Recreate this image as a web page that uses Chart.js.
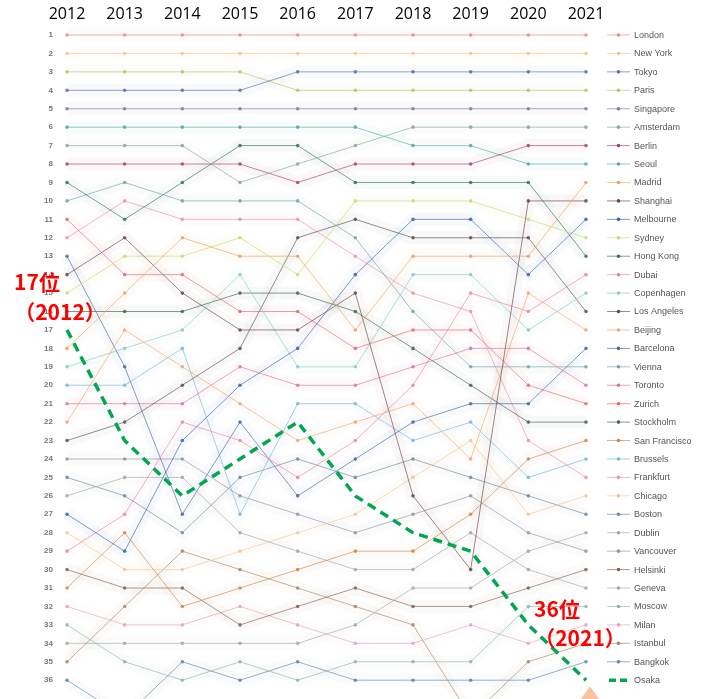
<!DOCTYPE html>
<html>
<head>
<meta charset="utf-8">
<script src="https://cdn.jsdelivr.net/npm/chart.js@4.4.1/dist/chart.umd.min.js"></script>
<style>
  body { margin: 0; background: #fff; }
  #wrap { width: 712px; height: 699px; }
</style>
</head>
<body>
<div id="wrap"><canvas id="rankChart" width="712" height="699"></canvas></div>
<script>
const years = ["2012", "2013", "2014", "2015", "2016", "2017", "2018", "2019", "2020", "2021"];

const cities = ["London", "New York", "Tokyo", "Paris", "Singapore", "Amsterdam", "Berlin", "Seoul",
    "Madrid", "Shanghai", "Melbourne", "Sydney", "Hong Kong", "Dubai", "Copenhagen", "Los Angeles",
    "Beijing", "Barcelona", "Vienna", "Toronto", "Zurich", "Stockholm", "San Francisco", "Brussels",
    "Frankfurt", "Chicago", "Boston", "Dublin", "Vancouver", "Helsinki", "Geneva", "Moscow",
    "Milan", "Istanbul", "Bangkok", "Osaka"];

// rank of each city (same order as cities) per year
const rank2012 = [1, 2, 4, 3, 5, 7, 8, 6, 18, 14, 27, 15, 9, 29, 19, 23, 22, 13, 10, 21, 11, 16, 31, 20, 12, 28, 25, 34, 24, 30, 26, 33, 32, 35, 36, 17];
const rank2013 = [1, 2, 4, 3, 5, 7, 8, 6, 15, 12, 29, 13, 11, 27, 18, 22, 17, 19, 9, 21, 14, 16, 28, 20, 10, 30, 26, 34, 24, 31, 25, 35, 33, 32, 38, 23];
const rank2014 = [1, 2, 4, 3, 5, 7, 8, 6, 12, 15, 23, 13, 9, 22, 17, 20, 19, 27, 10, 21, 14, 16, 32, 18, 11, 30, 28, 34, 24, 31, 25, 36, 33, 29, 35, 26];
const rank2015 = [1, 2, 4, 3, 5, 9, 8, 6, 13, 17, 20, 12, 7, 23, 14, 18, 21, 22, 10, 19, 16, 15, 31, 27, 11, 29, 25, 34, 26, 33, 28, 35, 32, 30, 36, 24];
const rank2016 = [1, 2, 3, 4, 5, 8, 9, 6, 13, 17, 18, 14, 7, 25, 19, 12, 23, 26, 10, 20, 16, 15, 30, 21, 11, 28, 24, 34, 27, 32, 29, 36, 33, 31, 35, 22];
const rank2017 = [1, 2, 3, 4, 5, 7, 8, 6, 17, 15, 14, 10, 9, 23, 19, 11, 22, 24, 12, 20, 18, 16, 29, 21, 13, 27, 25, 33, 28, 31, 30, 35, 34, 32, 36, 26];
const rank2018 = [1, 2, 3, 4, 5, 6, 8, 7, 13, 26, 11, 10, 9, 20, 14, 12, 21, 22, 16, 19, 17, 18, 29, 23, 15, 25, 24, 31, 27, 32, 30, 35, 34, 33, 36, 28];
const rank2019 = [1, 2, 3, 4, 5, 6, 8, 7, 13, 30, 11, 10, 9, 15, 14, 12, 24, 21, 19, 18, 17, 20, 27, 22, 16, 23, 25, 31, 26, 32, 28, 35, 33, 38, 36, 29];
const rank2020 = [1, 2, 3, 4, 5, 6, 7, 8, 13, 10, 14, 11, 9, 16, 17, 12, 15, 21, 19, 18, 20, 22, 24, 25, 23, 27, 26, 29, 28, 31, 30, 32, 34, 35, 36, 33];
const rank2021 = [1, 2, 3, 4, 5, 6, 7, 8, 9, 10, 11, 12, 13, 14, 15, 16, 17, 18, 19, 20, 21, 22, 23, 24, 25, 26, 27, 28, 29, 30, 31, 32, 33, 34, 35, 36];

const rankLabels = [1, 2, 3, 4, 5, 6, 7, 8, 9, 10, 11, 12, 13, 14, 15, 16, 17, 18,
    19, 20, 21, 22, 23, 24, 25, 26, 27, 28, 29, 30, 31, 32, 33, 34, 35, 36];

const lineColors = ["#e98a8a", "#f4c38f", "#5b6fae", "#a9c96a", "#7d7aa6", "#8aa69a", "#a4465a", "#54aaa2",
    "#ef9f62", "#6a4646", "#3563b0", "#cbd872", "#33706a", "#e289a6", "#86cbc3", "#5a5252",
    "#f0a675", "#4a66a4", "#75a3a6", "#d67896", "#e2687a", "#46644f", "#d08548", "#79b6d4",
    "#e496a6", "#f2c594", "#75879a", "#a3aba3", "#9494a6", "#86634f", "#a6a6a6", "#94b4a2",
    "#e2a6b6", "#a68865", "#6684a4", "#00a650"];

const yearRanks = [rank2012, rank2013, rank2014, rank2015, rank2016, rank2017, rank2018, rank2019, rank2020, rank2021];
const osakaIdx = cities.indexOf("Osaka");

function fade(hex, a) {
    const n = parseInt(hex.slice(1), 16);
    return `rgba(${(n >> 16) & 255},${(n >> 8) & 255},${n & 255},${a})`;
}

const datasets = cities.map((city, i) => {
    const isOsaka = i === osakaIdx;
    return {
        label: city,
        data: yearRanks.map(r => r[i]),
        borderColor: isOsaka ? lineColors[i] : fade(lineColors[i], 0.65),
        backgroundColor: isOsaka ? lineColors[i] : fade(lineColors[i], 0.85),
        borderWidth: isOsaka ? 3.5 : 1,
        borderDash: isOsaka ? [9, 6] : [],
        pointRadius: isOsaka ? 0 : 1.8,
        pointBorderWidth: 0,
        tension: 0,
        clip: false,
        order: isOsaka ? -1 : 0
    };
});

// faint wide wash under each line
const halo = {
    id: "halo",
    beforeDatasetsDraw(chart) {
        const ctx = chart.ctx;
        ctx.save();
        chart.data.datasets.forEach((ds, i) => {
            if (i === osakaIdx) return;
            const pts = chart.getDatasetMeta(i).data;
            ctx.beginPath();
            pts.forEach((p, k) => k ? ctx.lineTo(p.x, p.y) : ctx.moveTo(p.x, p.y));
            ctx.strokeStyle = fade(lineColors[i], 0.035);
            ctx.lineWidth = 13;
            ctx.lineJoin = "round";
            ctx.stroke();
        });
        ctx.restore();
    }
};

// legend rows lined up with the rank rows
const sideLegend = {
    id: "sideLegend",
    afterDraw(chart) {
        const ctx = chart.ctx;
        const y = chart.scales.y;
        ctx.save();
        cities.forEach((city, i) => {
            const py = y.getPixelForValue(i + 1);
            ctx.beginPath();
            if (i === osakaIdx) {
                ctx.setLineDash([7, 4]);
                ctx.lineWidth = 3.5;
                ctx.strokeStyle = lineColors[i];
                ctx.moveTo(609, py);
                ctx.lineTo(630, py);
                ctx.stroke();
                ctx.setLineDash([]);
            } else {
                ctx.lineWidth = 1;
                ctx.strokeStyle = fade(lineColors[i], 0.65);
                ctx.moveTo(607, py);
                ctx.lineTo(630, py);
                ctx.stroke();
                ctx.beginPath();
                ctx.fillStyle = lineColors[i];
                ctx.arc(618.5, py, 1.8, 0, Math.PI * 2);
                ctx.fill();
            }
            ctx.fillStyle = "#555";
            ctx.font = "9px 'Liberation Sans', sans-serif";
            ctx.textBaseline = "middle";
            ctx.textAlign = "left";
            ctx.fillText(city, 634, py + 0.5);
        });
        ctx.restore();
    }
};

// red callouts for Osaka
const callouts = {
    id: "callouts",
    afterDraw(chart) {
        const ctx = chart.ctx;
        const meta = chart.getDatasetMeta(osakaIdx).data;
        const last = meta[meta.length - 1];
        ctx.save();
        ctx.fillStyle = "#ff0000";
        ctx.textAlign = "center";
        ctx.textBaseline = "middle";
        ctx.font = "bold 21px 'Noto Sans CJK JP', sans-serif";
        ctx.fillText("17位", 37, 282);
        ctx.fillText("（2012）", 60, 312);
        ctx.fillText("36位", 557, 609);
        ctx.fillText("（2021）", 580, 638);
        ctx.beginPath();
        ctx.fillStyle = "#f9c3a3";
        ctx.moveTo(last.x + 4, last.y + 6);
        ctx.lineTo(last.x - 6, last.y + 20);
        ctx.lineTo(last.x + 14, last.y + 20);
        ctx.closePath();
        ctx.fill();
        ctx.restore();
    }
};

new Chart(document.getElementById("rankChart"), {
    type: "line",
    data: { labels: years, datasets: datasets },
    options: {
        responsive: false,
        animation: false,
        devicePixelRatio: 1,
        layout: { padding: { left: 0, right: 126, top: 0, bottom: 16 } },
        plugins: { legend: { display: false }, tooltip: { enabled: false } },
        scales: {
            x: {
                type: "category",
                position: "top",
                offset: false,
                grid: { display: false, drawTicks: false },
                border: { display: false },
                ticks: {
                    color: "#000",
                    padding: 11,
                    maxRotation: 0,
                    font: { family: "'Open Sans', sans-serif", size: 16 }
                },
                afterFit(s) { s.height = 35; }
            },
            y: {
                type: "linear",
                reverse: true,
                min: 1,
                max: 36,
                grid: { display: false, drawTicks: false },
                border: { display: false },
                afterBuildTicks(s) { s.ticks = rankLabels.map(v => ({ value: v })); },
                ticks: {
                    color: "#777",
                    padding: 14,
                    autoSkip: false,
                    font: { family: "'Liberation Sans', sans-serif", size: 8, weight: "bold" }
                },
                afterFit(s) { s.width = 67; }
            }
        }
    },
    plugins: [halo, sideLegend, callouts]
});
</script>
</body>
</html>
